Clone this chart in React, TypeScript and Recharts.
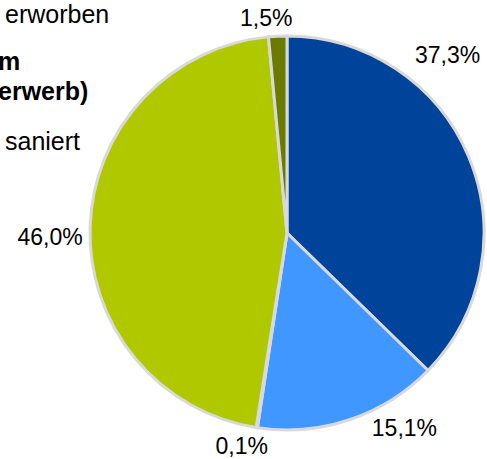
import { PieChart, Pie, Cell } from 'recharts';

const categories = ['A', 'B', 'C', 'D', 'E'];
const shares = [37.3, 15.1, 0.1, 46.0, 1.5];
const labels = ['37,3%', '15,1%', '0,1%', '46,0%', '1,5%'];
const colors = ['#00439A', '#3F97FF', '#8A8A8A', '#AFC800', '#6A7B00'];

// clipped legend on the left edge
const legendLines = [
  { text: 'erworben', bold: false },
  { text: 'm', bold: true },
  { text: 'erwerb)', bold: true },
  { text: 'saniert', bold: false },
];

const data = categories.map((c, i) => ({ name: c, value: shares[i] }));

// label placement: [angle deg, distance from centre]
const labelSpot = [
  [48, 240],
  [-59, 228],
  [-102, 218],
  [181, 237],
  [95.5, 216],
];

const FONT = '"Liberation Sans", Arial, sans-serif';

const renderLabel = (p: any) => {
  const [a, r] = labelSpot[p.index];
  const rad = (a * Math.PI) / 180;
  const x = p.cx + r * Math.cos(rad);
  const y = p.cy - r * Math.sin(rad);
  return (
    <text x={x} y={y} textAnchor="middle" dominantBaseline="central" fontSize={23} fill="#000" fontFamily={FONT}>
      {labels[p.index]}
    </text>
  );
};

export default function App() {
  const ys = [23, 70, 100, 150];
  const xs = [5, -2, -2, 5];
  return (
    <div style={{ position: 'fixed', left: 0, top: 0, width: 487, height: 459, background: '#fff' }}>
      <PieChart width={487} height={459} margin={{ top: 0, right: 0, bottom: 0, left: 0 }}>
        <Pie
          data={data}
          dataKey="value"
          cx={287}
          cy={233}
          outerRadius={197}
          startAngle={90}
          endAngle={-270}
          stroke="#D9D9D9"
          strokeWidth={3}
          label={renderLabel}
          labelLine={false}
          isAnimationActive={false}
        >
          {data.map((d, i) => (
            <Cell key={d.name} fill={colors[i]} />
          ))}
        </Pie>
      </PieChart>
      <svg width={487} height={459} style={{ position: 'absolute', left: 0, top: 0, pointerEvents: 'none' }}>
        {legendLines.map((l, i) => (
          <text key={i} x={xs[i]} y={ys[i]} fontSize={25} fontWeight={l.bold ? 'bold' : 'normal'} fill="#000" fontFamily={FONT}>
            {l.text}
          </text>
        ))}
      </svg>
    </div>
  );
}
